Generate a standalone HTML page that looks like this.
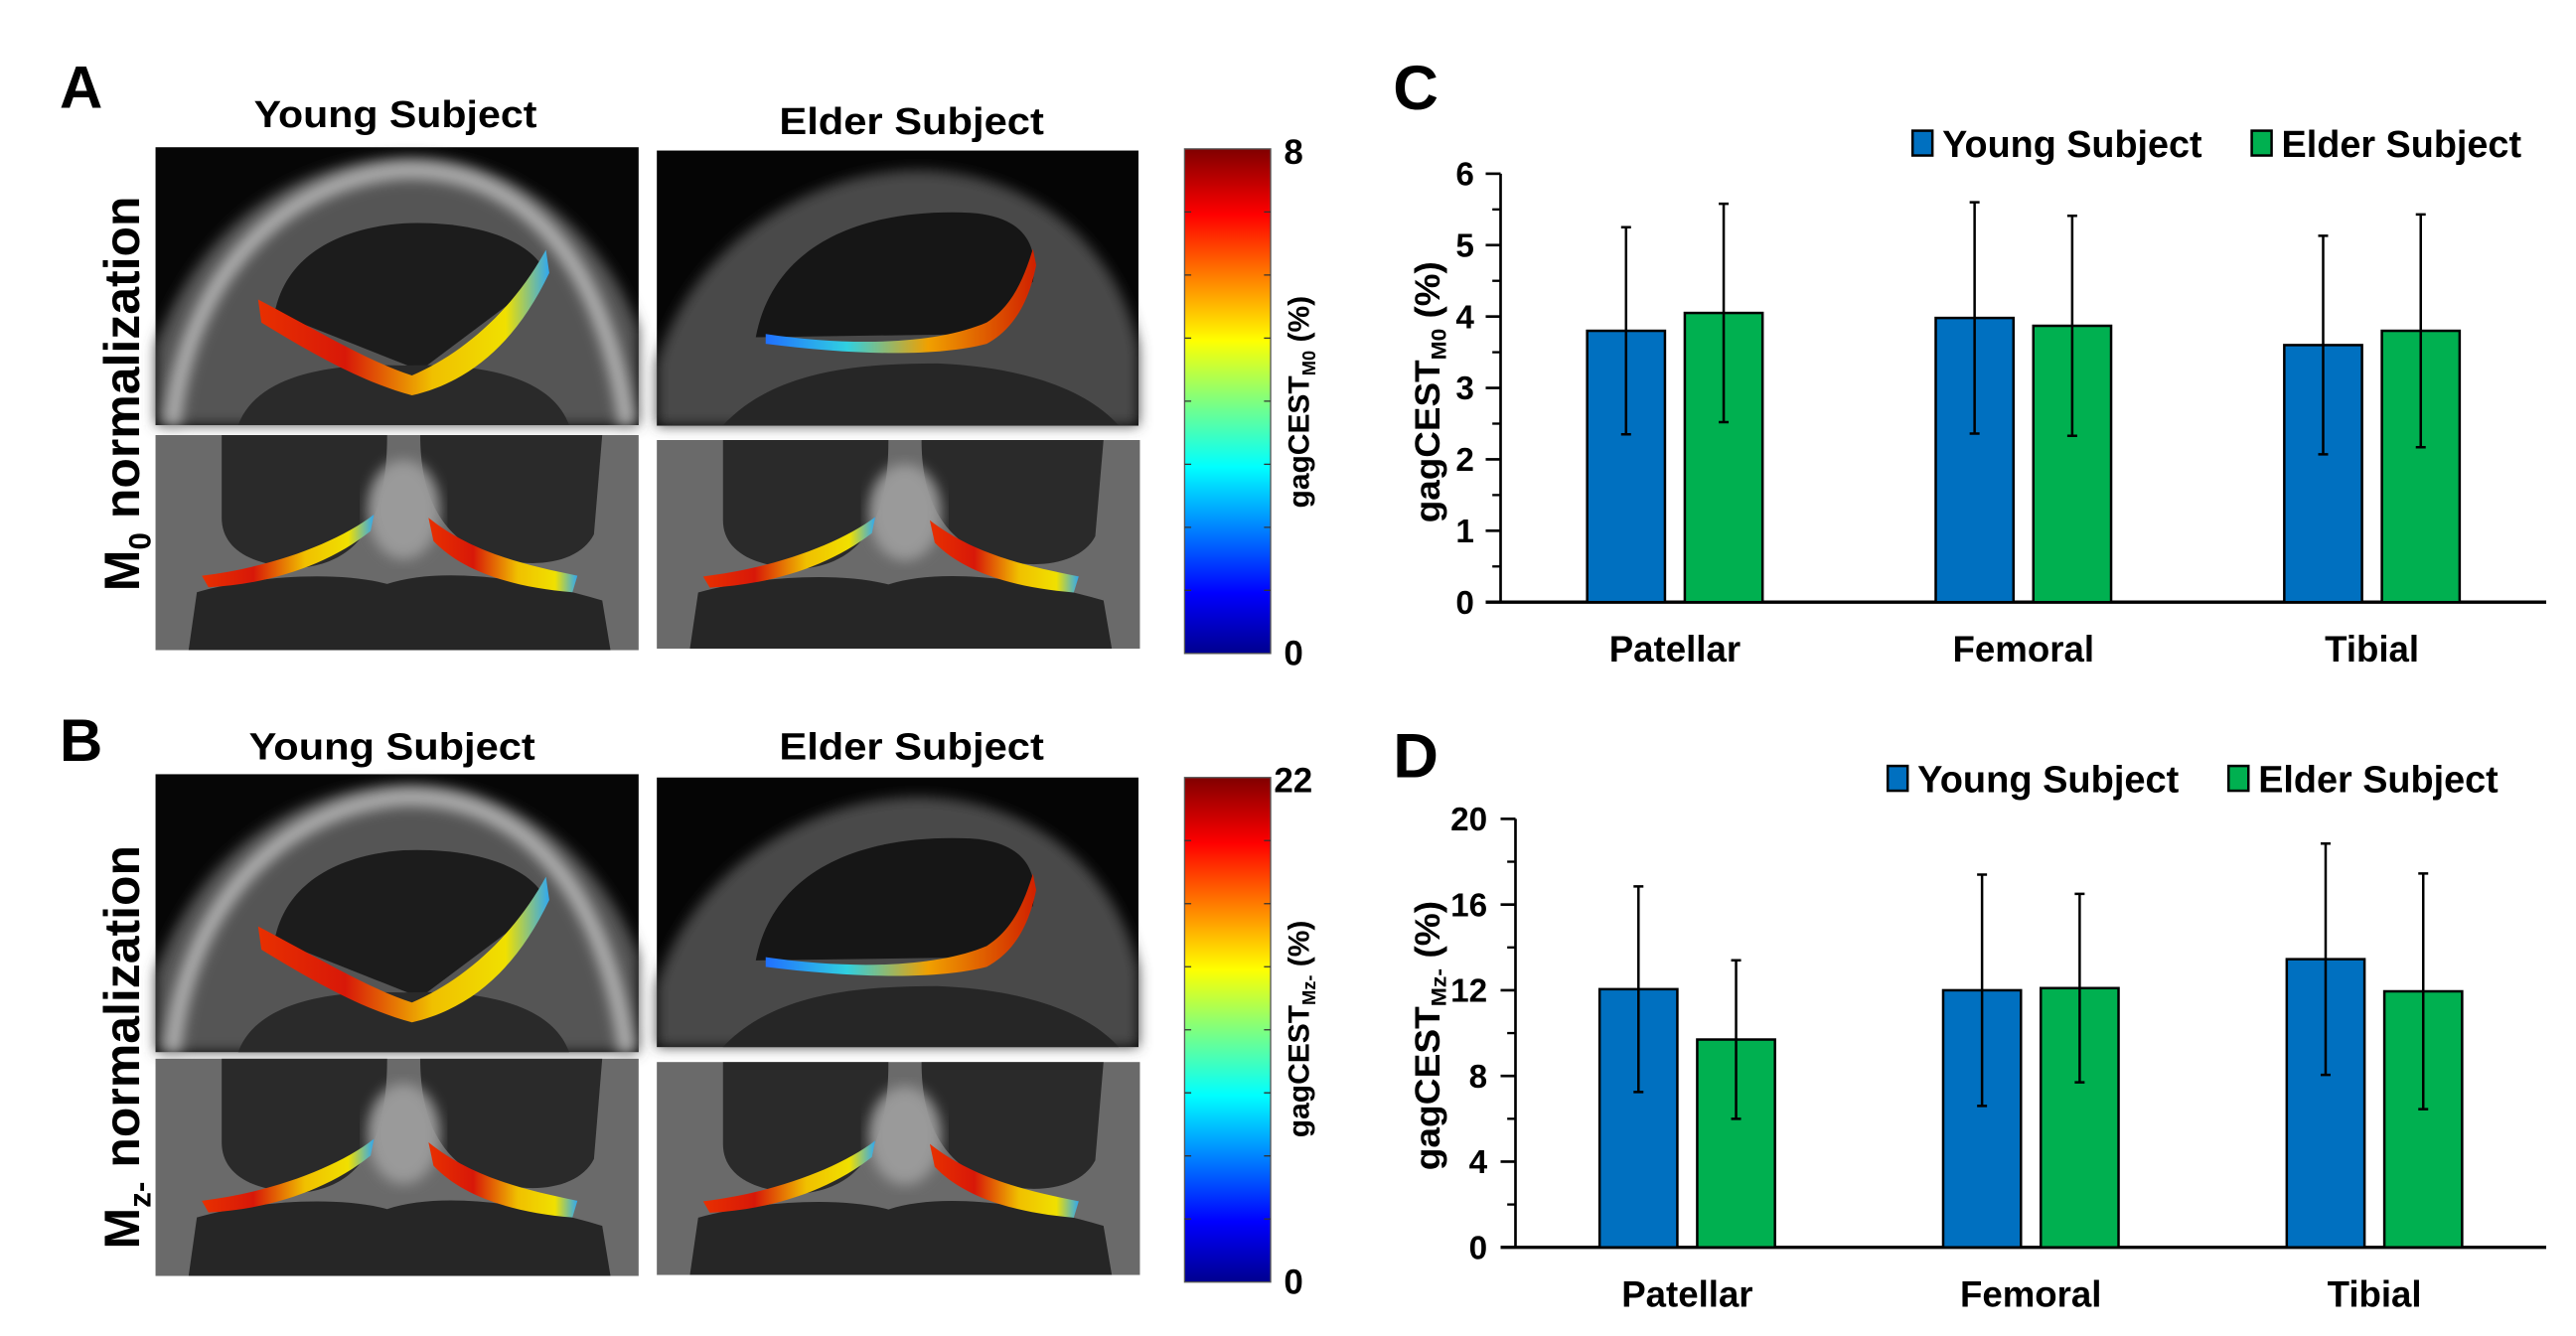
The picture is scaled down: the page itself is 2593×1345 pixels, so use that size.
<!DOCTYPE html>
<html><head><meta charset="utf-8">
<style>
html,body{margin:0;padding:0;background:#fff;}
svg{display:block;}
text{font-family:"Liberation Sans",Arial,sans-serif;font-weight:bold;fill:#000;}
</style></head>
<body>
<svg id="fig" width="2593" height="1345" viewBox="0 0 1557 807.6" preserveAspectRatio="none" xmlns="http://www.w3.org/2000/svg">
<defs>
  <linearGradient id="jet" x1="0" y1="1" x2="0" y2="0">
    <stop offset="0" stop-color="#00008f"/>
    <stop offset="0.12" stop-color="#0000ff"/>
    <stop offset="0.37" stop-color="#00ffff"/>
    <stop offset="0.5" stop-color="#7fff7f"/>
    <stop offset="0.62" stop-color="#ffff00"/>
    <stop offset="0.87" stop-color="#ff0000"/>
    <stop offset="1" stop-color="#800000"/>
  </linearGradient>
  <linearGradient id="band" x1="0" y1="0" x2="1" y2="0">
    <stop offset="0" stop-color="#e83000"/>
    <stop offset="0.3" stop-color="#d81808"/>
    <stop offset="0.6" stop-color="#f0c000"/>
    <stop offset="0.85" stop-color="#f0e000"/>
    <stop offset="1" stop-color="#30a8f0"/>
  </linearGradient>
  <linearGradient id="band2" x1="0" y1="0" x2="1" y2="0">
    <stop offset="0" stop-color="#2070ff"/>
    <stop offset="0.3" stop-color="#30d0e0"/>
    <stop offset="0.6" stop-color="#f0a000"/>
    <stop offset="1" stop-color="#d02000"/>
  </linearGradient>
  <filter id="blur"><feGaussianBlur stdDeviation="4"/></filter>
  <g id="patellaY">
    <rect width="292" height="168" fill="#060606"/>
    <path d="M0,168 L0,120 C30,40 90,8 150,6 C215,4 270,50 292,110 L292,168 Z" fill="#555" filter="url(#blur)"/>
    <path d="M10,168 C20,70 85,18 150,14 C215,12 270,60 285,168" fill="none" stroke="#b0b0b0" stroke-width="10" filter="url(#blur)"/>
    <path d="M72,100 C80,60 120,48 150,46 C200,44 232,60 236,78 L160,135 Z" fill="#1c1c1c"/>
    <path d="M50,168 C60,140 100,130 150,132 C200,130 240,140 250,168 Z" fill="#2a2a2a"/>
    <path d="M62,92 C100,112 130,130 155,138 C185,125 215,100 236,62 L238,76 C218,118 190,142 155,150 C125,142 95,125 64,106 Z" fill="url(#band)"/>
  </g>
  <g id="patellaE">
    <rect width="292" height="168" fill="#050505"/>
    <path d="M0,168 L0,130 C20,60 90,12 160,12 C230,14 280,60 292,120 L292,168 Z" fill="#4a4a4a" filter="url(#blur)"/>
    <path d="M60,114 C70,60 120,35 190,38 C220,40 232,55 228,80 L200,112 Z" fill="#161616"/>
    <path d="M40,168 C70,135 120,130 170,130 C220,132 260,145 280,168 Z" fill="#262626"/>
    <path d="M66,112 C120,120 170,118 200,105 C215,95 222,80 228,60 L230,70 C226,90 218,108 200,118 C170,126 120,125 66,118 Z" fill="url(#band2)"/>
  </g>
  <g id="tibia">
    <rect width="292" height="130" fill="#6a6a6a"/>
    <path d="M40,0 L140,0 C140,40 130,75 90,80 C60,80 40,70 40,50 Z" fill="#2a2a2a"/>
    <path d="M160,0 L270,0 L265,60 C255,80 220,82 195,70 C175,60 160,40 160,0 Z" fill="#2a2a2a"/>
    <path d="M20,130 L25,95 C60,85 110,82 140,90 C170,80 220,85 270,100 L275,130 Z" fill="#262626"/>
    <ellipse cx="150" cy="45" rx="22" ry="30" fill="#9a9a9a" filter="url(#blur)"/>
    <path d="M28,85 C70,80 110,65 132,48 L130,58 C105,78 70,90 32,92 Z" fill="url(#band)"/>
    <path d="M165,50 C190,70 220,78 255,85 L252,95 C215,92 185,82 168,64 Z" fill="url(#band)"/>
  </g>
</defs>

<!-- Panel A -->
<text x="36" y="65" font-size="36">A</text>
<text x="239" y="77" font-size="23" text-anchor="middle" textLength="171" lengthAdjust="spacingAndGlyphs">Young Subject</text>
<text x="551" y="81" font-size="23" text-anchor="middle" textLength="160" lengthAdjust="spacingAndGlyphs">Elder Subject</text>
<text transform="translate(84,238) rotate(-90)" font-size="30" text-anchor="middle">M<tspan font-size="19" dy="7">0</tspan><tspan dy="-7"> normalization</tspan></text>
<g transform="translate(94,89)"><use href="#patellaY"/></g>
<g transform="translate(397,91) scale(0.997,0.99)"><use href="#patellaE"/></g>
<g transform="translate(94,263)"><use href="#tibia"/></g>
<g transform="translate(397,266) scale(1,0.97)"><use href="#tibia"/></g>
<rect x="716" y="90" width="52" height="305" fill="url(#jet)" stroke="#555" stroke-width="0.8"/>
<g id="cbticksA"></g>
<text x="776" y="99" font-size="21">8</text>
<text x="776" y="402" font-size="21">0</text>
<text transform="translate(791,243) rotate(-90)" font-size="18" text-anchor="middle">gagCEST<tspan font-size="11" dy="4">M0</tspan><tspan dy="-4"> (%)</tspan></text>

<!-- Panel B -->
<text x="36" y="460" font-size="36">B</text>
<text x="237" y="459" font-size="23" text-anchor="middle" textLength="173" lengthAdjust="spacingAndGlyphs">Young Subject</text>
<text x="551" y="459" font-size="23" text-anchor="middle" textLength="160" lengthAdjust="spacingAndGlyphs">Elder Subject</text>
<text transform="translate(84,633) rotate(-90)" font-size="30" text-anchor="middle">M<tspan font-size="19" dy="7">z-</tspan><tspan dy="-7"> normalization</tspan></text>
<g transform="translate(94,468)"><use href="#patellaY"/></g>
<g transform="translate(397,470) scale(0.997,0.97)"><use href="#patellaE"/></g>
<g transform="translate(94,640) scale(1,1.01)"><use href="#tibia"/></g>
<g transform="translate(397,642) scale(1,0.99)"><use href="#tibia"/></g>
<rect x="716" y="470" width="52" height="305" fill="url(#jet)" stroke="#555" stroke-width="0.8"/>
<g id="cbticksB"></g>
<text x="770" y="479" font-size="21">22</text>
<text x="776" y="782" font-size="21">0</text>
<text transform="translate(791,622) rotate(-90)" font-size="18" text-anchor="middle">gagCEST<tspan font-size="11" dy="4">Mz-</tspan><tspan dy="-4"> (%)</tspan></text>

<text x="842" y="66" font-size="38">C</text>
<text x="842" y="470" font-size="38">D</text>
<g id="chartC"></g>
<g id="chartD"></g>
</svg>

<script>
const categories = ["Patellar", "Femoral", "Tibial"];
const youngC = [3.80, 3.98, 3.60];
const youngCErr = [1.45, 1.62, 1.53];
const elderC = [4.05, 3.87, 3.80];
const elderCErr = [1.53, 1.54, 1.63];
const ticksC = [0, 1, 2, 3, 4, 5, 6];
const youngD = [12.05, 12.0, 13.45];
const youngDErr = [4.8, 5.4, 5.4];
const elderD = [9.7, 12.1, 11.95];
const elderDErr = [3.7, 4.4, 5.5];
const ticksD = [0, 4, 8, 12, 16, 20];

const NS = "http://www.w3.org/2000/svg";
function mk(parent, tag, attrs, txt) {
  const e = document.createElementNS(NS, tag);
  for (const k in attrs) e.setAttribute(k, attrs[k]);
  if (txt !== undefined) e.textContent = txt;
  parent.appendChild(e);
  return e;
}

[["cbticksA", 90], ["cbticksB", 470]].forEach(c => {
  const g = document.getElementById(c[0]);
  for (let i = 1; i < 8; i++) {
    const y = c[1] + 305 * i / 8;
    const t1 = mk(g, "path", {d: `M716,${y}h4M768,${y}h-4`, stroke: "#333", "stroke-width": 0.8});
    
    
  }
});

function drawChart(g, cfg) {
  const yScale = v => cfg.y0 - (v - cfg.min) / (cfg.max - cfg.min) * (cfg.y0 - cfg.yTop);
  const ya = mk(g, "line", {x1: cfg.x0, y1: cfg.yTop, x2: cfg.x0, y2: cfg.y0, stroke: "#000", "stroke-width": 1.6});
  
  
  const step = cfg.ticks[1] - cfg.ticks[0];
  for (let i = 0; i < cfg.ticks.length; i++) {
    const t = cfg.ticks[i];
    const y = yScale(t);
    const tk = mk(g, "line", {x1: cfg.x0 - 9, y1: y, x2: cfg.x0, y2: y, stroke: "#000", "stroke-width": 1.6});
    
    
    if (i < cfg.ticks.length - 1) {
      const ym = yScale(t + step / 2);
      const mt = mk(g, "line", {x1: cfg.x0 - 5, y1: ym, x2: cfg.x0, y2: ym, stroke: "#000", "stroke-width": 1.4});
      
      
    }
    const lb = mk(g, "text", {x: cfg.labelX, y: y + 7, "font-size": 20, "text-anchor": "end"}, String(t));
    
    
  }
  const xa = mk(g, "line", {x1: cfg.x0 - 9, y1: cfg.y0, x2: cfg.xEnd, y2: cfg.y0, stroke: "#000", "stroke-width": 2});
  
  
  const gw = (cfg.xEnd - cfg.x0) / categories.length;
  const bw = 47, gap = 12;
  for (let i = 0; i < categories.length; i++) {
    const cx = cfg.x0 + gw * (i + 0.5);
    const series = [[cfg.young, cfg.youngErr, "#0070c0", "young"], [cfg.elder, cfg.elderErr, "#00b050", "elder"]];
    series.forEach((s, j) => {
      const x = j === 0 ? cx - gap / 2 - bw : cx + gap / 2;
      const v = s[0][i], e = s[1][i];
      const b = mk(g, "rect", {x: x, y: yScale(v), width: bw, height: cfg.y0 - yScale(v), fill: s[2], stroke: "#000", "stroke-width": 1.5});
      
      
      const mx = x + bw / 2;
      const eb = mk(g, "path", {d: `M${mx},${yScale(v + e)}V${yScale(v - e)}M${mx - 3},${yScale(v + e)}H${mx + 3}M${mx - 3},${yScale(v - e)}H${mx + 3}`, stroke: "#000", "stroke-width": 1.5, fill: "none"});
      
      
    });
    const cl = mk(g, "text", {x: cx, y: cfg.catY, "font-size": 22, "text-anchor": "middle"}, categories[i]);
    
    
  }
  const yt = mk(g, "text", {transform: `translate(${cfg.titleX},${cfg.titleY}) rotate(-90)`, "font-size": 21, "text-anchor": "middle", textLength: cfg.titleLen, lengthAdjust: "spacingAndGlyphs"});
  
  
  mk(yt, "tspan", {}, "gagCEST");
  mk(yt, "tspan", {"font-size": 13, dy: 4}, cfg.sub);
  mk(yt, "tspan", {dy: -4}, " (%)");
  const lg = [["#0070c0", "Young Subject", cfg.legX1, cfg.legW1], ["#00b050", "Elder Subject", cfg.legX2, cfg.legW2]];
  lg.forEach(l => {
    const sw = mk(g, "rect", {x: l[2], y: cfg.legY - 8, width: 12, height: 15, fill: l[0], stroke: "#000", "stroke-width": 1.5});
    
    
    const lt = mk(g, "text", {x: l[2] + 18, y: cfg.legY + 8, "font-size": 23, textLength: l[3], lengthAdjust: "spacingAndGlyphs"}, l[1]);
    
    
  });
}

drawChart(document.getElementById("chartC"), {
  x0: 907, xEnd: 1539, y0: 364, yTop: 105, min: 0, max: 6, ticks: ticksC, labelX: 891,
  young: youngC, youngErr: youngCErr, elder: elderC, elderErr: elderCErr, catY: 400,
  sub: "M0", titleX: 870, titleY: 237, titleLen: 158, legX1: 1156, legX2: 1361, legW1: 157, legW2: 145, legY: 87
});
drawChart(document.getElementById("chartD"), {
  x0: 916, xEnd: 1539, y0: 754, yTop: 495, min: 0, max: 20, ticks: ticksD, labelX: 899,
  young: youngD, youngErr: youngDErr, elder: elderD, elderErr: elderDErr, catY: 790,
  sub: "Mz-", titleX: 870, titleY: 626, titleLen: 163, legX1: 1141, legX2: 1347, legW1: 158, legW2: 145, legY: 471
});
</script>
</body></html>
